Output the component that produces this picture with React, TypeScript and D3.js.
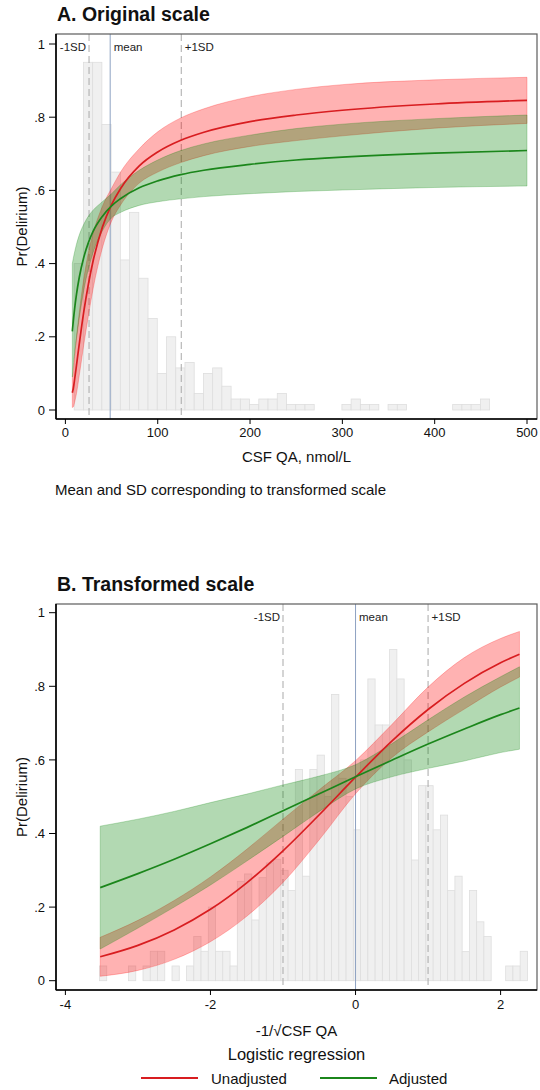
import React from 'react';
import * as d3 from 'd3';

// ---- panel A: original scale (CSF QA, nmol/L) ----
const qaGrid = [7.5, 8.5, 10, 12, 15, 20, 25, 30, 40, 50, 60, 80, 100, 125, 150, 200, 250, 300, 400, 500];
const unadjA = [0.047, 0.058, 0.084, 0.122, 0.18, 0.27, 0.345, 0.407, 0.499, 0.561, 0.606, 0.667, 0.705, 0.737, 0.759, 0.788, 0.806, 0.819, 0.836, 0.846];
const unadjLoA = [0.007, 0.008, 0.021, 0.045, 0.094, 0.18, 0.259, 0.331, 0.442, 0.516, 0.561, 0.62, 0.65, 0.676, 0.695, 0.72, 0.736, 0.749, 0.77, 0.783];
const unadjHiA = [0.087, 0.108, 0.147, 0.199, 0.266, 0.36, 0.431, 0.483, 0.556, 0.606, 0.651, 0.714, 0.76, 0.798, 0.823, 0.856, 0.876, 0.889, 0.902, 0.909];
const adjA = [0.215, 0.242, 0.277, 0.316, 0.362, 0.418, 0.458, 0.488, 0.529, 0.558, 0.578, 0.607, 0.626, 0.643, 0.655, 0.671, 0.683, 0.691, 0.702, 0.709];
const adjLoA = [0.09, 0.12, 0.155, 0.195, 0.25, 0.328, 0.386, 0.43, 0.489, 0.525, 0.54, 0.559, 0.569, 0.577, 0.583, 0.591, 0.597, 0.601, 0.608, 0.612];
const adjHiA = [0.4, 0.414, 0.432, 0.453, 0.478, 0.508, 0.53, 0.546, 0.569, 0.591, 0.616, 0.655, 0.683, 0.709, 0.727, 0.751, 0.769, 0.781, 0.796, 0.806];

const histAStart = 9.5;
const histAWidth = 10;
const histA = [
  0.4, 0.95, 0.95, 0.78, 0.65, 0.41, 0.54, 0.36, 0.25, 0.1,
  0.2, 0.115, 0.13, 0.045, 0.1, 0.115, 0.065, 0.03, 0.03, 0.015,
  0.03, 0.03, 0.045, 0.015, 0.015, 0.015, 0, 0, 0, 0.015,
  0.03, 0.015, 0.015, 0, 0.015, 0.015, 0, 0, 0, 0,
  0, 0.015, 0.015, 0.015, 0.03,
];
const refA = [25.6, 48.5, 125.5];
const xTicksA = [0, 100, 200, 300, 400, 500];

// ---- panel B: transformed scale (-1/sqrt CSF QA, standardised) ----
const tGrid = [-3.52, -3, -2.5, -2, -1.5, -1, -0.5, 0, 0.5, 1, 1.5, 2, 2.26];
const unadjB = [0.065, 0.096, 0.138, 0.194, 0.266, 0.353, 0.451, 0.553, 0.651, 0.737, 0.808, 0.864, 0.887];
const unadjLoB = [0.012, 0.028, 0.058, 0.106, 0.175, 0.267, 0.383, 0.508, 0.606, 0.676, 0.738, 0.798, 0.825];
const unadjHiB = [0.118, 0.164, 0.218, 0.282, 0.357, 0.439, 0.519, 0.598, 0.696, 0.798, 0.878, 0.93, 0.949];
const adjB = [0.253, 0.291, 0.33, 0.372, 0.416, 0.462, 0.508, 0.554, 0.599, 0.643, 0.684, 0.723, 0.741];
const adjLoB = [0.086, 0.143, 0.2, 0.26, 0.325, 0.392, 0.46, 0.521, 0.554, 0.577, 0.597, 0.62, 0.629];
const adjHiB = [0.42, 0.439, 0.46, 0.484, 0.507, 0.532, 0.556, 0.587, 0.644, 0.709, 0.771, 0.826, 0.853];

const histBStart = -3.53;
const histBWidth = 0.1;
const histB = [
  0.04, 0, 0, 0, 0.04, 0, 0.04, 0.08, 0.08, 0,
  0.04, 0, 0.04, 0.12, 0.08, 0.2, 0.08, 0.08, 0.04, 0.27,
  0.29, 0.165, 0.28, 0.32, 0.33, 0.3, 0.245, 0.574, 0.284, 0.574,
  0.613, 0.5, 0.778, 0.55, 0.5, 0.41, 0.6, 0.82, 0.695, 0.695,
  0.9, 0.82, 0.6, 0.328, 0.53, 0.53, 0.41, 0.45, 0.245, 0.284,
  0.079, 0.245, 0.16, 0.12, 0, 0, 0.04, 0.04, 0.08,
];
const refB = [-1, 0, 1];
const xTicksB = [-4, -2, 0, 2];

const refLabels = ['-1SD', 'mean', '+1SD'];
const yTicks = [0, 0.2, 0.4, 0.6, 0.8, 1];
const yTickLabels = ['0', '.2', '.4', '.6', '.8', '1'];

const FONT = "'Liberation Sans', Arial, Helvetica, sans-serif";
const RED = '#d81d20';
const GREEN = '#1b861b';
const LEFT = 56;
const RIGHT = 537;

type PanelProps = {
  title: string;
  titleY: number;
  top: number;
  bottom: number;
  x: d3.ScaleLinear<number, number>;
  y: d3.ScaleLinear<number, number>;
  grid: number[];
  unadj: number[];
  unadjLo: number[];
  unadjHi: number[];
  adj: number[];
  adjLo: number[];
  adjHi: number[];
  hist: number[];
  histStart: number;
  histWidth: number;
  refs: number[];
  xTicks: number[];
  tickLabelY: number;
  xTitle: string;
  xTitleY: number;
};

const Panel = (p: PanelProps) => {
  const { x, y } = p;
  const idx = p.grid.map((_, i) => i);
  const band = (lo: number[], hi: number[]) =>
    d3.area<number>()
      .x((i) => x(p.grid[i]))
      .y0((i) => y(lo[i]))
      .y1((i) => y(hi[i]))
      .curve(d3.curveMonotoneX)(idx) || '';
  const line = (vals: number[]) =>
    d3.line<number>()
      .x((i) => x(p.grid[i]))
      .y((i) => y(vals[i]))
      .curve(d3.curveMonotoneX)(idx) || '';

  const midX = (LEFT + RIGHT) / 2;
  const midY = (p.top + p.bottom) / 2;

  return (
    <g>
      <text x={57} y={p.titleY} fontSize={19.5} fontWeight="bold" fill="#111">{p.title}</text>

      {/* histogram */}
      {p.hist.map((h, i) => {
        if (!h) return null;
        const x0 = x(p.histStart + i * p.histWidth);
        const x1 = x(p.histStart + (i + 1) * p.histWidth);
        return (
          <rect key={i} x={x0} y={y(h)} width={x1 - x0} height={y(0) - y(h)}
            fill="#f0f0f0" stroke="#dedede" strokeWidth={0.8} />
        );
      })}

      {/* reference lines */}
      {p.refs.map((r, i) => (
        <line key={i} x1={x(r)} x2={x(r)} y1={p.top} y2={p.bottom}
          stroke={i === 1 ? '#8ea2c2' : '#a9a9a9'} strokeWidth={1}
          strokeDasharray={i === 1 ? undefined : '7,4'} />
      ))}
      {p.refs.map((r, i) => (
        <text key={'l' + i} x={i === 0 ? x(r) - 3 : x(r) + 3.5} y={p.top + 17}
          textAnchor={i === 0 ? 'end' : 'start'} fontSize={11.5} fill="#222">{refLabels[i]}</text>
      ))}

      {/* confidence bands */}
      <path d={band(p.unadjLo, p.unadjHi)} fill="rgb(255,0,0)" fillOpacity={0.3}
        stroke="rgb(255,0,0)" strokeOpacity={0.3} strokeWidth={0.8} />
      <path d={band(p.adjLo, p.adjHi)} fill="rgb(0,128,0)" fillOpacity={0.3}
        stroke="rgb(0,128,0)" strokeOpacity={0.3} strokeWidth={0.8} />

      {/* fitted lines */}
      <path d={line(p.unadj)} fill="none" stroke={RED} strokeWidth={1.7} />
      <path d={line(p.adj)} fill="none" stroke={GREEN} strokeWidth={1.7} />

      {/* frame and axes */}
      <rect x={LEFT} y={p.top} width={RIGHT - LEFT} height={p.bottom - p.top}
        fill="none" stroke="#5c5c5c" strokeWidth={1.2} />
      <line x1={LEFT} x2={LEFT} y1={p.top} y2={p.bottom} stroke="#000" strokeWidth={1.6} />
      <line x1={LEFT} x2={RIGHT} y1={p.bottom} y2={p.bottom} stroke="#000" strokeWidth={1.6} />

      {yTicks.map((t, i) => (
        <g key={'y' + i}>
          <line x1={LEFT - 7} x2={LEFT} y1={y(t)} y2={y(t)} stroke="#000" strokeWidth={1} />
          <text x={45} y={y(t)} dy="0.36em" textAnchor="end" fontSize={13} fill="#111">{yTickLabels[i]}</text>
        </g>
      ))}
      {p.xTicks.map((t, i) => (
        <g key={'x' + i}>
          <line x1={x(t)} x2={x(t)} y1={p.bottom} y2={p.bottom + 5} stroke="#000" strokeWidth={1} />
          <text x={x(t)} y={p.tickLabelY} textAnchor="middle" fontSize={13} fill="#111">{t}</text>
        </g>
      ))}

      <text x={midX} y={p.xTitleY} textAnchor="middle" fontSize={15} fill="#111">{p.xTitle}</text>
      <text transform={`translate(27,${midY}) rotate(-90)`} textAnchor="middle" fontSize={15} fill="#111">Pr(Delirium)</text>
    </g>
  );
};

export default function App() {
  const xA = d3.scaleLinear().domain([0, 500]).range([65.4, 527]);
  const yA = d3.scaleLinear().domain([0, 1]).range([410, 44]);
  const xB = d3.scaleLinear().domain([-4, 2]).range([65.4, 500.6]);
  const yB = d3.scaleLinear().domain([0, 1]).range([980.7, 612.7]);

  return (
    <svg width={540} height={1090} style={{ position: 'absolute', left: 0, top: 0, background: '#fff' }}
      fontFamily={FONT}>
      <rect x={0} y={0} width={540} height={1090} fill="#fff" />
      <Panel title="A. Original scale" titleY={21} top={34} bottom={419} x={xA} y={yA}
        grid={qaGrid} unadj={unadjA} unadjLo={unadjLoA} unadjHi={unadjHiA}
        adj={adjA} adjLo={adjLoA} adjHi={adjHiA}
        hist={histA} histStart={histAStart} histWidth={histAWidth} refs={refA}
        xTicks={xTicksA} tickLabelY={437} xTitle="CSF QA, nmol/L" xTitleY={462} />
      <text x={55} y={495} fontSize={15} fill="#111">Mean and SD corresponding to transformed scale</text>

      <Panel title="B. Transformed scale" titleY={591} top={604} bottom={990} x={xB} y={yB}
        grid={tGrid} unadj={unadjB} unadjLo={unadjLoB} unadjHi={unadjHiB}
        adj={adjB} adjLo={adjLoB} adjHi={adjHiB}
        hist={histB} histStart={histBStart} histWidth={histBWidth} refs={refB}
        xTicks={xTicksB} tickLabelY={1009} xTitle="-1/√CSF QA" xTitleY={1036} />

      {/* legend */}
      <text x={296.5} y={1060} textAnchor="middle" fontSize={16.5} fill="#111">Logistic regression</text>
      <line x1={141} x2={198} y1={1078} y2={1078} stroke={RED} strokeWidth={2} />
      <text x={211} y={1084} fontSize={15} fill="#111">Unadjusted</text>
      <line x1={320} x2={377} y1={1078} y2={1078} stroke={GREEN} strokeWidth={2} />
      <text x={389} y={1084} fontSize={15} fill="#111">Adjusted</text>
    </svg>
  );
}
